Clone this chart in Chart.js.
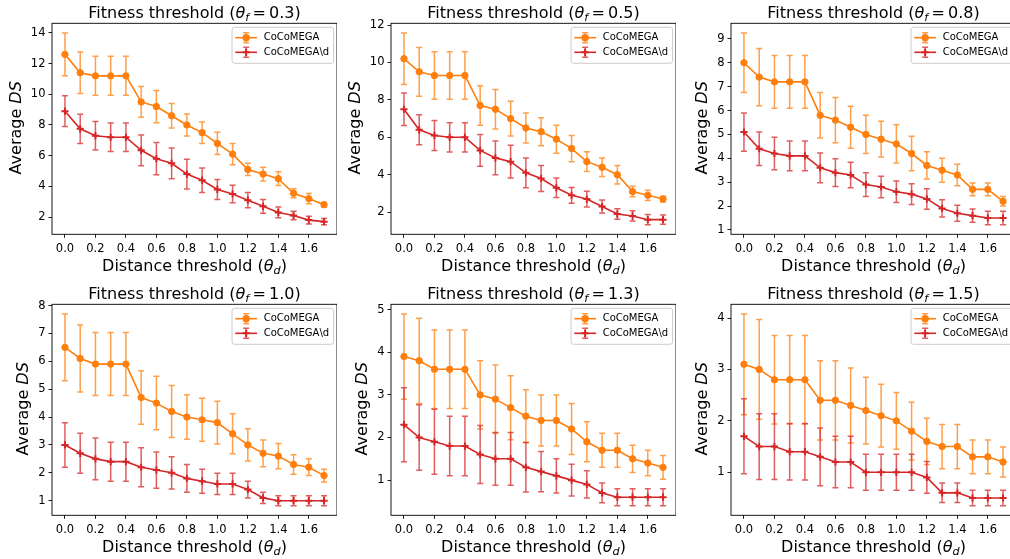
<!DOCTYPE html>
<html><head><meta charset="utf-8">
<script src="https://cdn.jsdelivr.net/npm/chart.js@4.4.0/dist/chart.umd.min.js"></script>
<style>
html,body{margin:0;padding:0;background:#fff;overflow:hidden;width:1010px;height:559px;}
#wrap{position:relative;width:1010px;height:559px;overflow:hidden;background:#fff;}
canvas{position:absolute;display:block;}
</style></head><body><div id="wrap"></div>
<script>
// ---------------- data ----------------
const distanceThresholds = [0.0,0.1,0.2,0.3,0.4,0.5,0.6,0.7,0.8,0.9,1.0,1.1,1.2,1.3,1.4,1.5,1.6,1.7];
const xTickValues = [0.0,0.2,0.4,0.6,0.8,1.0,1.2,1.4,1.6];
const fitnessThresholds = ['0.3','0.5','0.8','1.0','1.3','1.5'];
const seriesNames = ['CoCoMEGA','CoCoMEGA\\d'];

const cocomega_03     = [12.6,11.4,11.2,11.2,11.2,9.5,9.2,8.6,8.0,7.5,6.8,6.1,5.1,4.8,4.5,3.55,3.2,2.8];
const cocomega_03_err = [1.4,1.35,1.27,1.27,1.27,1.0,1.05,0.8,0.72,0.7,0.72,0.7,0.4,0.45,0.45,0.3,0.33,0.15];
const noD_03          = [8.9,7.75,7.3,7.2,7.2,6.35,5.8,5.5,4.8,4.4,3.8,3.5,3.1,2.7,2.3,2.1,1.8,1.7];
const noD_03_err      = [1.0,0.95,0.93,0.93,0.93,1.0,1.05,1.0,0.97,0.8,0.65,0.57,0.5,0.45,0.35,0.28,0.25,0.2];

const cocomega_05     = [10.2,9.5,9.3,9.3,9.3,7.7,7.5,7.0,6.5,6.3,5.9,5.4,4.7,4.4,4.0,3.1,2.9,2.7];
const cocomega_05_err = [1.38,1.3,1.27,1.27,1.27,1.06,1.06,0.93,0.8,0.75,0.75,0.7,0.53,0.5,0.5,0.28,0.27,0.15];
const noD_05          = [7.5,6.4,6.1,6.0,6.0,5.3,4.9,4.7,4.1,3.8,3.3,2.9,2.7,2.3,1.9,1.8,1.6,1.6];
const noD_05_err      = [0.87,0.8,0.8,0.78,0.78,0.85,0.9,0.87,0.8,0.7,0.52,0.42,0.42,0.35,0.28,0.27,0.27,0.25];

const cocomega_08     = [8.0,7.4,7.2,7.2,7.2,5.8,5.6,5.3,5.0,4.8,4.6,4.2,3.7,3.5,3.3,2.7,2.7,2.2];
const cocomega_08_err = [1.25,1.2,1.1,1.1,1.1,0.95,0.95,0.88,0.8,0.75,0.8,0.72,0.57,0.5,0.45,0.27,0.27,0.2];
const noD_08          = [5.1,4.4,4.2,4.1,4.1,3.6,3.4,3.3,2.9,2.8,2.6,2.5,2.3,1.9,1.7,1.6,1.5,1.5];
const noD_08_err      = [0.8,0.7,0.68,0.62,0.62,0.62,0.58,0.53,0.5,0.45,0.45,0.43,0.43,0.36,0.33,0.28,0.28,0.28];

const cocomega_10     = [6.5,6.1,5.9,5.9,5.9,4.7,4.5,4.2,4.0,3.9,3.8,3.4,3.0,2.7,2.6,2.3,2.2,1.9];
const cocomega_10_err = [1.2,1.2,1.13,1.13,1.13,0.96,0.96,0.93,0.8,0.77,0.77,0.72,0.58,0.48,0.45,0.35,0.3,0.23];
const noD_10          = [3.0,2.7,2.5,2.4,2.4,2.2,2.1,2.0,1.8,1.7,1.6,1.6,1.4,1.1,1.0,1.0,1.0,1.0];
const noD_10_err      = [0.8,0.72,0.75,0.7,0.7,0.7,0.65,0.58,0.5,0.43,0.38,0.38,0.3,0.2,0.18,0.18,0.18,0.18];

const cocomega_13     = [3.9,3.8,3.6,3.6,3.6,3.0,2.9,2.7,2.5,2.4,2.4,2.2,1.9,1.7,1.7,1.5,1.4,1.3];
const cocomega_13_err = [1.0,1.0,0.92,0.92,0.92,0.8,0.8,0.75,0.62,0.6,0.6,0.6,0.47,0.4,0.4,0.32,0.3,0.28];
const noD_13          = [2.3,2.0,1.9,1.8,1.8,1.6,1.5,1.5,1.3,1.2,1.1,1.0,0.9,0.7,0.6,0.6,0.6,0.6];
const noD_13_err      = [0.87,0.77,0.76,0.7,0.7,0.68,0.62,0.62,0.58,0.47,0.4,0.37,0.32,0.23,0.2,0.2,0.2,0.2];

const cocomega_15     = [3.1,3.0,2.8,2.8,2.8,2.4,2.4,2.3,2.2,2.1,2.0,1.8,1.6,1.5,1.5,1.3,1.3,1.2];
const cocomega_15_err = [0.98,0.97,0.86,0.86,0.86,0.77,0.77,0.73,0.65,0.61,0.55,0.56,0.45,0.43,0.43,0.33,0.33,0.29];
const noD_15          = [1.7,1.5,1.5,1.4,1.4,1.3,1.2,1.2,1.0,1.0,1.0,1.0,0.9,0.6,0.6,0.5,0.5,0.5];
const noD_15_err      = [0.73,0.64,0.64,0.55,0.55,0.56,0.5,0.5,0.35,0.35,0.35,0.35,0.31,0.19,0.19,0.15,0.15,0.15];

const yTicks_03 = [2,4,6,8,10,12,14];
const yTicks_05 = [2,4,6,8,10,12];
const yTicks_08 = [1,2,3,4,5,6,7,8,9];
const yTicks_10 = [1,2,3,4,5,6,7,8];
const yTicks_13 = [1,2,3,4,5];
const yTicks_15 = [1,2,3,4];

const panels = [
  {f:fitnessThresholds[0], a:cocomega_03, ae:cocomega_03_err, b:noD_03, be:noD_03_err, yt:yTicks_03},
  {f:fitnessThresholds[1], a:cocomega_05, ae:cocomega_05_err, b:noD_05, be:noD_05_err, yt:yTicks_05},
  {f:fitnessThresholds[2], a:cocomega_08, ae:cocomega_08_err, b:noD_08, be:noD_08_err, yt:yTicks_08},
  {f:fitnessThresholds[3], a:cocomega_10, ae:cocomega_10_err, b:noD_10, be:noD_10_err, yt:yTicks_10},
  {f:fitnessThresholds[4], a:cocomega_13, ae:cocomega_13_err, b:noD_13, be:noD_13_err, yt:yTicks_13},
  {f:fitnessThresholds[5], a:cocomega_15, ae:cocomega_15_err, b:noD_15, be:noD_15_err, yt:yTicks_15}
];

// ---------------- style ----------------
const FONT = "'DejaVu Sans', 'Liberation Sans', sans-serif";
const ORANGE = '#ff7f0e', ORANGE_ERR = 'rgba(255,127,14,0.75)';
const RED = '#d62728', RED_ERR = 'rgba(214,39,40,0.75)';
const TXT = '#000';
Chart.defaults.font.family = FONT;
Chart.defaults.color = TXT;

const colLeft = [0, 337, 677], colYW = [52, 54, 54];
const rowTop = [0, 280], rowH = [280, 279], rowPadTop = [23.3, 24.3];
const PLOT_W = 285, PLOT_H = 211;

function fontStr(size, it){ return (it ? 'italic ' : '') + size + 'px ' + FONT; }
function richWidth(ctx, pieces){
  let w = 0;
  for (const p of pieces){ if (p.gap){ w += p.gap; continue; } ctx.font = fontStr(p.size, p.it); w += ctx.measureText(p.t).width; }
  return w;
}
function drawRich(ctx, pieces, cx, y){
  let x = cx - richWidth(ctx, pieces) / 2;
  ctx.textAlign = 'left'; ctx.textBaseline = 'alphabetic'; ctx.fillStyle = TXT;
  for (const p of pieces){
    if (p.gap){ x += p.gap; continue; }
    ctx.font = fontStr(p.size, p.it);
    ctx.fillText(p.t, x, y + (p.dy || 0));
    x += ctx.measureText(p.t).width;
  }
}

const errorBarPlugin = {
  id: 'errbars',
  beforeDatasetDraw(chart, args){
    const ds = chart.data.datasets[args.index];
    const ctx = chart.ctx, xs = chart.scales.x, ys = chart.scales.y;
    ctx.save();
    ctx.strokeStyle = ds.errColor; ctx.lineWidth = 1.5;
    ds.data.forEach((pt, i) => {
      const e = ds.err[i];
      const px = xs.getPixelForValue(pt.x);
      const y0 = ys.getPixelForValue(pt.y - e), y1 = ys.getPixelForValue(pt.y + e);
      ctx.beginPath();
      ctx.moveTo(px, y0); ctx.lineTo(px, y1);
      ctx.moveTo(px - 3, y0); ctx.lineTo(px + 3, y0);
      ctx.moveTo(px - 3, y1); ctx.lineTo(px + 3, y1);
      ctx.stroke();
    });
    ctx.restore();
  }
};

const framePlugin = {
  id: 'frame',
  afterDatasetsDraw(chart){
    const a = chart.chartArea, ctx = chart.ctx;
    ctx.save(); ctx.strokeStyle = '#000'; ctx.lineWidth = 0.9;
    ctx.strokeRect(a.left, a.top, a.right - a.left, a.bottom - a.top);
    ctx.restore();
  }
};

const textPlugin = {
  id: 'richtext',
  afterDraw(chart){
    const a = chart.chartArea, ctx = chart.ctx, cfg = chart.options.plugins.richtext;
    const cx = (a.left + a.right) / 2, cy = (a.top + a.bottom) / 2;
    ctx.save();
    drawRich(ctx, [
      {t:'Fitness threshold (', size:16}, {t:'\u03b8', size:16, it:true},
      {t:'f', size:11.2, it:true, dy:3.4}, {gap:3.2}, {t:'=', size:16}, {gap:3.2},
      {t:cfg.f + ')', size:16}
    ], cx, a.top - 5.8);
    drawRich(ctx, [
      {t:'Distance threshold (', size:16}, {t:'\u03b8', size:16, it:true},
      {t:'d', size:11.2, it:true, dy:3.4}, {t:')', size:16}
    ], cx, a.bottom + 36.2);
    // y label
    ctx.font = fontStr(11.5, false);
    const maxW = Math.max(...chart.scales.y.ticks.map(t => ctx.measureText(String(t.label)).width));
    const bx = a.left - maxW - 16.5;
    ctx.translate(bx, cy - 1);
    ctx.rotate(-Math.PI / 2);
    drawRich(ctx, [{t:'Average ', size:16}, {t:'DS', size:16, it:true}], 0, 0);
    ctx.restore();
  }
};

const legendPlugin = {
  id: 'boxlegend',
  afterDraw(chart){
    const a = chart.chartArea, ctx = chart.ctx;
    const dss = chart.data.datasets;
    ctx.save();
    ctx.font = fontStr(10, false);
    const tw = Math.max(...dss.map(d => ctx.measureText(d.label).width));
    const bw = 31.6 + tw + 4.5, bh = 36;
    const bx = a.right - 3.4 - bw, by = a.top + 4;
    ctx.beginPath();
    if (ctx.roundRect) ctx.roundRect(bx, by, bw, bh, 2.5); else ctx.rect(bx, by, bw, bh);
    ctx.fillStyle = 'rgba(255,255,255,0.8)'; ctx.fill();
    ctx.strokeStyle = '#cccccc'; ctx.lineWidth = 1; ctx.stroke();
    dss.forEach((d, i) => {
      const yy = by + 10.4 + i * 14.6;
      const mx = bx + 14.1;
      ctx.strokeStyle = d.errColor; ctx.lineWidth = 1.5;
      ctx.beginPath();
      ctx.moveTo(mx, yy - 5); ctx.lineTo(mx, yy + 5);
      ctx.moveTo(mx - 3, yy - 5); ctx.lineTo(mx + 3, yy - 5);
      ctx.moveTo(mx - 3, yy + 5); ctx.lineTo(mx + 3, yy + 5);
      ctx.stroke();
      ctx.strokeStyle = d.borderColor; ctx.lineWidth = d.borderWidth;
      ctx.beginPath(); ctx.moveTo(bx + 3.3, yy); ctx.lineTo(bx + 25, yy); ctx.stroke();
      if (d.pointStyle === 'circle'){
        ctx.fillStyle = d.borderColor; ctx.beginPath(); ctx.arc(mx, yy, d.pointRadius + 0.5, 0, Math.PI * 2); ctx.fill();
      } else {
        ctx.lineWidth = d.pointBorderWidth; ctx.beginPath();
        ctx.moveTo(mx - d.pointRadius, yy); ctx.lineTo(mx + d.pointRadius, yy);
        ctx.moveTo(mx, yy - d.pointRadius); ctx.lineTo(mx, yy + d.pointRadius); ctx.stroke();
      }
      ctx.fillStyle = TXT; ctx.textAlign = 'left'; ctx.textBaseline = 'middle';
      ctx.fillText(d.label, bx + 31.6, yy);
    });
    ctx.restore();
  }
};

function yLimits(p){
  let lo = Infinity, hi = -Infinity;
  [[p.a, p.ae], [p.b, p.be]].forEach(([v, e]) => v.forEach((y, i) => { lo = Math.min(lo, y - e[i]); hi = Math.max(hi, y + e[i]); }));
  const pad = 0.05 * (hi - lo);
  return [lo - pad, hi + pad];
}

const wrap = document.getElementById('wrap');
panels.forEach((p, k) => {
  const col = k % 3, row = Math.floor(k / 3);
  const cv = document.createElement('canvas');
  const w = colYW[col] + PLOT_W, h = rowH[row];
  cv.width = w; cv.height = h;
  cv.style.width = w + 'px'; cv.style.height = h + 'px';
  cv.style.left = colLeft[col] + 'px'; cv.style.top = rowTop[row] + 'px';
  wrap.appendChild(cv);
  const [ymin, ymax] = yLimits(p);
  const yW = colYW[col], xH = h - rowPadTop[row] - PLOT_H;
  new Chart(cv, {
    type: 'line',
    data: {
      datasets: [
        {label: seriesNames[0], data: distanceThresholds.map((x, i) => ({x, y: p.a[i]})), err: p.ae,
         borderColor: ORANGE, backgroundColor: ORANGE, errColor: ORANGE_ERR, borderWidth: 1.6,
         pointStyle: 'circle', pointRadius: 3.2, pointBorderWidth: 1, pointBackgroundColor: ORANGE, pointBorderColor: ORANGE,
         tension: 0, order: 1},
        {label: seriesNames[1], data: distanceThresholds.map((x, i) => ({x, y: p.b[i]})), err: p.be,
         borderColor: RED, backgroundColor: RED, errColor: RED_ERR, borderWidth: 1.6,
         pointStyle: 'cross', pointRadius: 3.6, pointBorderWidth: 2, pointBackgroundColor: RED, pointBorderColor: RED,
         tension: 0, order: 0}
      ]
    },
    options: {
      responsive: false, animation: false, devicePixelRatio: 1,
      layout: {autoPadding: false, padding: {top: rowPadTop[row], left: 0, right: 0, bottom: 0}},
      events: [],
      plugins: {legend: {display: false}, tooltip: {enabled: false}, title: {display: false},
                richtext: {f: p.f}},
      scales: {
        x: {
          type: 'linear', min: -0.085, max: 1.785,
          afterFit(s){ s.height = xH; },
          afterBuildTicks(s){ s.ticks = xTickValues.map(v => ({value: v})); },
          ticks: {callback: v => Number(v).toFixed(1), font: {size: 11.5, family: FONT}, color: TXT, padding: 4.5, maxRotation: 0, autoSkip: false},
          grid: {drawOnChartArea: false, drawTicks: true, tickLength: 3.5, color: '#000', lineWidth: 0.9},
          border: {display: false}
        },
        y: {
          type: 'linear', min: ymin, max: ymax,
          afterFit(s){ s.width = yW; },
          afterBuildTicks(s){ s.ticks = p.yt.map(v => ({value: v})); },
          ticks: {callback: v => String(v), font: {size: 11.5, family: FONT}, color: TXT, padding: 3, autoSkip: false},
          grid: {drawOnChartArea: false, drawTicks: true, tickLength: 3.5, color: '#000', lineWidth: 0.9},
          border: {display: false}
        }
      }
    },
    plugins: [errorBarPlugin, framePlugin, textPlugin, legendPlugin]
  });
});
</script>
</body></html>
